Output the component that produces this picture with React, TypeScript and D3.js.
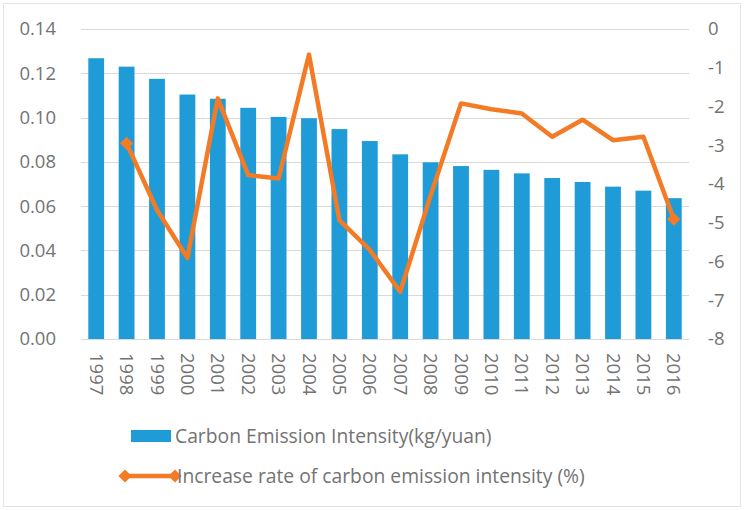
import React, { useEffect, useRef } from 'react';
import * as d3 from 'd3';

// values
const years = ['1997', '1998', '1999', '2000', '2001', '2002', '2003', '2004', '2005', '2006',
  '2007', '2008', '2009', '2010', '2011', '2012', '2013', '2014', '2015', '2016'];
const intensity = [0.1268, 0.1230, 0.1175, 0.1104, 0.1085, 0.1044, 0.1003, 0.0997, 0.0948, 0.0894,
  0.0834, 0.0798, 0.0781, 0.0764, 0.0748, 0.0727, 0.0709, 0.0688, 0.0670, 0.0636];
// no rate for the first year
const rateYears = years.slice(1);
const rate = [-2.95, -4.67, -5.91, -1.79, -3.77, -3.86, -0.66, -4.93, -5.7, -6.78,
  -4.3, -1.92, -2.07, -2.18, -2.78, -2.34, -2.87, -2.78, -4.91];
const leftTicks = [0, 0.02, 0.04, 0.06, 0.08, 0.10, 0.12, 0.14];
const rightTicks = [0, -1, -2, -3, -4, -5, -6, -7, -8];
const barLabel = 'Carbon Emission Intensity(kg/yuan)';
const lineLabel = 'Increase rate of carbon emission intensity (%)';

const W = 744, H = 510;
const BLUE = '#1f9cd8';
const ORANGE = '#f47b25';
const TEXT = '#737373';
const FONT = '"Open Sans", sans-serif';

export default function App() {
  const ref = useRef<SVGSVGElement>(null);

  useEffect(() => {
    document.body.style.margin = '0';
    const svg = d3.select(ref.current);
    svg.selectAll('*').remove();

    const left = 81, right = 689, top = 29, bottom = 339;

    const x = d3.scaleBand().domain(years).range([left, right]).paddingInner(0.48).paddingOuter(0.24);
    const yL = d3.scaleLinear().domain([0, 0.14]).range([bottom, top]);
    const yR = d3.scaleLinear().domain([-8, 0]).range([bottom, top]);

    // chart border
    svg.append('rect')
      .attr('x', 3.5).attr('y', 3.5).attr('width', W - 7).attr('height', H - 7)
      .attr('fill', 'white').attr('stroke', '#e3e3e3');

    // gridlines
    svg.append('g').selectAll('line').data(leftTicks).enter().append('line')
      .attr('x1', left).attr('x2', right)
      .attr('y1', d => Math.round(yL(d)) + 0.5).attr('y2', d => Math.round(yL(d)) + 0.5)
      .attr('stroke', '#d9d9d9').attr('stroke-width', 1);

    // bars
    svg.append('g').selectAll('rect').data(intensity).enter().append('rect')
      .attr('x', (d, i) => x(years[i])!)
      .attr('y', d => yL(d))
      .attr('width', x.bandwidth())
      .attr('height', d => bottom - yL(d))
      .attr('fill', BLUE);

    // line
    const lineGen = d3.line<number>()
      .x((d, i) => x(rateYears[i])! + x.bandwidth() / 2)
      .y(d => yR(d));
    svg.append('path').datum(rate)
      .attr('d', lineGen)
      .attr('fill', 'none').attr('stroke', ORANGE).attr('stroke-width', 4.5)
      .attr('stroke-linejoin', 'round');

    // markers on first and last points
    const diamond = d3.symbol().type(d3.symbolDiamond2).size(110);
    [0, rate.length - 1].forEach(i => {
      svg.append('path')
        .attr('d', diamond()!)
        .attr('transform', `translate(${x(rateYears[i])! + x.bandwidth() / 2},${yR(rate[i])})`)
        .attr('fill', ORANGE);
    });

    // left axis labels
    svg.append('g').selectAll('text').data(leftTicks).enter().append('text')
      .attr('x', 56).attr('y', d => yL(d))
      .attr('dy', '0.35em').attr('text-anchor', 'end')
      .attr('font-family', FONT).attr('font-size', 18.5).attr('fill', TEXT)
      .text(d => d3.format('.2f')(d));

    // right axis labels
    svg.append('g').selectAll('text').data(rightTicks).enter().append('text')
      .attr('x', 708).attr('y', d => yR(d))
      .attr('dy', '0.35em').attr('text-anchor', 'start')
      .attr('font-family', FONT).attr('font-size', 18.5).attr('fill', TEXT)
      .text(d => String(d));

    // x labels, rotated
    svg.append('g').selectAll('text').data(years).enter().append('text')
      .attr('transform', d => `translate(${x(d)! + x.bandwidth() / 2},${bottom + 14}) rotate(90)`)
      .attr('dy', '0.35em').attr('text-anchor', 'start')
      .attr('font-family', FONT).attr('font-size', 18.5).attr('fill', TEXT)
      .text(d => d);

    // legend
    const lg = svg.append('g');
    lg.append('rect').attr('x', 131).attr('y', 430).attr('width', 40).attr('height', 12).attr('fill', BLUE);
    lg.append('text').attr('x', 175).attr('y', 436).attr('dy', '0.35em')
      .attr('font-family', FONT).attr('font-size', 19.3).attr('fill', TEXT).text(barLabel);

    lg.append('line').attr('x1', 125).attr('x2', 175).attr('y1', 476).attr('y2', 476)
      .attr('stroke', ORANGE).attr('stroke-width', 4.5);
    [125, 175].forEach(cx => {
      lg.append('path').attr('d', diamond()!).attr('transform', `translate(${cx},476)`).attr('fill', ORANGE);
    });
    lg.append('text').attr('x', 177).attr('y', 476).attr('dy', '0.35em')
      .attr('font-family', FONT).attr('font-size', 19.3).attr('fill', TEXT).text(lineLabel);
  }, []);

  return <svg ref={ref} width={W} height={H} style={{ display: 'block' }} />;
}
